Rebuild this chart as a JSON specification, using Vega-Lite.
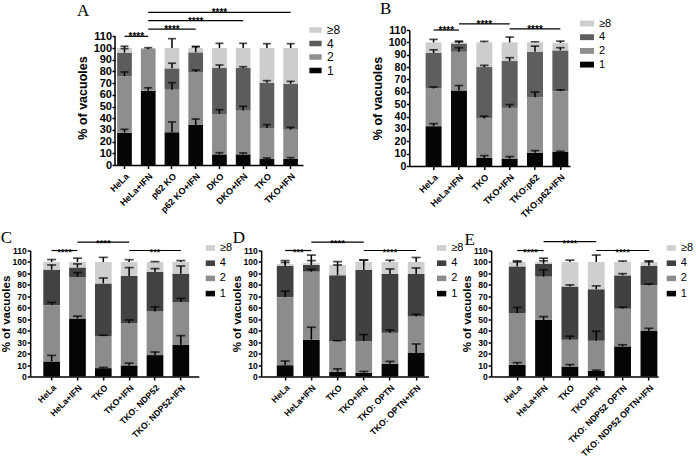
{
  "$schema": "https://vega.github.io/schema/vega-lite/v6.json",
  "padding": {"left": 0, "top": 0, "right": 0, "bottom": 0},
  "config": {
    "view": {"stroke": null},
    "font": "Liberation Sans",
    "axis": {"domainColor": "black", "domainWidth": 1.5, "tickColor": "black", "tickWidth": 1.5, "labelColor": "black", "labelFontWeight": "bold", "titleColor": "black", "titleFontWeight": "bold", "grid": false, "labelFont": "Liberation Sans", "titleFont": "Liberation Sans", "labelOverlap": false, "labelFlush": false, "labelBound": false},
    "axisX": {"labelAngle": -45, "title": null, "tickSize": 3.5, "labelPadding": 3, "labelFontSize": 9},
    "axisY": {"tickSize": 3, "labelPadding": 0.5, "titlePadding": 3.3, "tickCount": 12, "labelBound": false, "labelOverlap": false, "labelFlush": false},
    "legend": {"title": null, "orient": "none", "symbolStrokeWidth": 0, "labelColor": "black", "labelFont": "Liberation Sans", "labelFontSize": 12, "labelOffset": 5},
    "title": {"anchor": "start", "frame": "group", "font": "Liberation Serif", "fontSize": 17, "fontWeight": "normal", "color": "black", "baseline": "alphabetic"}
  },
  "datasets": {
    "bars": [
      {"panel":"A","g":"HeLa","cat":"1","lo":0,"hi":27.6,"err":30.5},
      {"panel":"A","g":"HeLa","cat":"2","lo":27.6,"hi":76,"err":79.5},
      {"panel":"A","g":"HeLa","cat":"4","lo":76,"hi":96,"err":99.5},
      {"panel":"A","g":"HeLa","cat":"≥8","lo":96,"hi":100,"err":101.5},
      {"panel":"A","g":"HeLa+IFN","cat":"1","lo":0,"hi":63.5,"err":66},
      {"panel":"A","g":"HeLa+IFN","cat":"2","lo":63.5,"hi":99,"err":100.3},
      {"panel":"A","g":"HeLa+IFN","cat":"4","lo":99,"hi":99.6,"err":null},
      {"panel":"A","g":"HeLa+IFN","cat":"≥8","lo":99.6,"hi":100,"err":null},
      {"panel":"A","g":"p62 KO","cat":"1","lo":0,"hi":28,"err":36.8},
      {"panel":"A","g":"p62 KO","cat":"2","lo":28,"hi":64.4,"err":70.4},
      {"panel":"A","g":"p62 KO","cat":"4","lo":64.4,"hi":82.6,"err":87},
      {"panel":"A","g":"p62 KO","cat":"≥8","lo":82.6,"hi":100,"err":108},
      {"panel":"A","g":"p62 KO+IFN","cat":"1","lo":0,"hi":34.2,"err":39.3},
      {"panel":"A","g":"p62 KO+IFN","cat":"2","lo":34.2,"hi":79.5,"err":81.2},
      {"panel":"A","g":"p62 KO+IFN","cat":"4","lo":79.5,"hi":96.3,"err":101.4},
      {"panel":"A","g":"p62 KO+IFN","cat":"≥8","lo":96.3,"hi":100,"err":101},
      {"panel":"A","g":"DKO","cat":"1","lo":0,"hi":9.1,"err":10.5},
      {"panel":"A","g":"DKO","cat":"2","lo":9.1,"hi":43.6,"err":47.3},
      {"panel":"A","g":"DKO","cat":"4","lo":43.6,"hi":82.9,"err":85.5},
      {"panel":"A","g":"DKO","cat":"≥8","lo":82.9,"hi":100,"err":104},
      {"panel":"A","g":"DKO+IFN","cat":"1","lo":0,"hi":9.1,"err":10.3},
      {"panel":"A","g":"DKO+IFN","cat":"2","lo":9.1,"hi":46.5,"err":50.2},
      {"panel":"A","g":"DKO+IFN","cat":"4","lo":46.5,"hi":83,"err":84},
      {"panel":"A","g":"DKO+IFN","cat":"≥8","lo":83,"hi":100,"err":104},
      {"panel":"A","g":"TKO","cat":"1","lo":0,"hi":5.1,"err":6},
      {"panel":"A","g":"TKO","cat":"2","lo":5.1,"hi":31.6,"err":34.5},
      {"panel":"A","g":"TKO","cat":"4","lo":31.6,"hi":70.4,"err":72.1},
      {"panel":"A","g":"TKO","cat":"≥8","lo":70.4,"hi":100,"err":103.7},
      {"panel":"A","g":"TKO+IFN","cat":"1","lo":0,"hi":5.4,"err":6.3},
      {"panel":"A","g":"TKO+IFN","cat":"2","lo":5.4,"hi":30.2,"err":32.2},
      {"panel":"A","g":"TKO+IFN","cat":"4","lo":30.2,"hi":69.5,"err":71.5},
      {"panel":"A","g":"TKO+IFN","cat":"≥8","lo":69.5,"hi":100,"err":103.7},

      {"panel":"B","g":"HeLa","cat":"1","lo":0,"hi":32.2,"err":34.3},
      {"panel":"B","g":"HeLa","cat":"2","lo":32.2,"hi":62.7,"err":64},
      {"panel":"B","g":"HeLa","cat":"4","lo":62.7,"hi":91.4,"err":94},
      {"panel":"B","g":"HeLa","cat":"≥8","lo":91.4,"hi":100,"err":102.4},
      {"panel":"B","g":"HeLa+IFN","cat":"1","lo":0,"hi":61.1,"err":65.1},
      {"panel":"B","g":"HeLa+IFN","cat":"2","lo":61.1,"hi":92.4,"err":95.7},
      {"panel":"B","g":"HeLa+IFN","cat":"4","lo":92.4,"hi":99,"err":100.5},
      {"panel":"B","g":"HeLa+IFN","cat":"≥8","lo":99,"hi":100,"err":101},
      {"panel":"B","g":"TKO","cat":"1","lo":0,"hi":6.5,"err":8.4},
      {"panel":"B","g":"TKO","cat":"2","lo":6.5,"hi":38.4,"err":40.3},
      {"panel":"B","g":"TKO","cat":"4","lo":38.4,"hi":80,"err":81.4},
      {"panel":"B","g":"TKO","cat":"≥8","lo":80,"hi":100,"err":100.8},
      {"panel":"B","g":"TKO+IFN","cat":"1","lo":0,"hi":6,"err":7.6},
      {"panel":"B","g":"TKO+IFN","cat":"2","lo":6,"hi":47,"err":49.7},
      {"panel":"B","g":"TKO+IFN","cat":"4","lo":47,"hi":84.9,"err":87.6},
      {"panel":"B","g":"TKO+IFN","cat":"≥8","lo":84.9,"hi":100,"err":104.3},
      {"panel":"B","g":"TKO:p62","cat":"1","lo":0,"hi":10.8,"err":12.4},
      {"panel":"B","g":"TKO:p62","cat":"2","lo":10.8,"hi":55.7,"err":59.7},
      {"panel":"B","g":"TKO:p62","cat":"4","lo":55.7,"hi":92.4,"err":97},
      {"panel":"B","g":"TKO:p62","cat":"≥8","lo":92.4,"hi":100,"err":100.5},
      {"panel":"B","g":"TKO:p62+IFN","cat":"1","lo":0,"hi":11.4,"err":11.9},
      {"panel":"B","g":"TKO:p62+IFN","cat":"2","lo":11.4,"hi":60.5,"err":61.6},
      {"panel":"B","g":"TKO:p62+IFN","cat":"4","lo":60.5,"hi":93.5,"err":95.7},
      {"panel":"B","g":"TKO:p62+IFN","cat":"≥8","lo":93.5,"hi":99.5,"err":101},

      {"panel":"C","g":"HeLa","cat":"1","lo":0,"hi":13.2,"err":18.4},
      {"panel":"C","g":"HeLa","cat":"2","lo":13.2,"hi":62.3,"err":64.7},
      {"panel":"C","g":"HeLa","cat":"4","lo":62.3,"hi":93.3,"err":97.4},
      {"panel":"C","g":"HeLa","cat":"≥8","lo":93.3,"hi":100,"err":102.1},
      {"panel":"C","g":"HeLa+IFN","cat":"1","lo":0,"hi":50.6,"err":52.7},
      {"panel":"C","g":"HeLa+IFN","cat":"2","lo":50.6,"hi":86.9,"err":90.7},
      {"panel":"C","g":"HeLa+IFN","cat":"4","lo":86.9,"hi":95.1,"err":98.3},
      {"panel":"C","g":"HeLa+IFN","cat":"≥8","lo":95.1,"hi":100,"err":103.3},
      {"panel":"C","g":"TKO","cat":"1","lo":0,"hi":7.3,"err":7.9},
      {"panel":"C","g":"TKO","cat":"2","lo":7.3,"hi":35.4,"err":36},
      {"panel":"C","g":"TKO","cat":"4","lo":35.4,"hi":81.3,"err":86},
      {"panel":"C","g":"TKO","cat":"≥8","lo":81.3,"hi":100,"err":104},
      {"panel":"C","g":"TKO+IFN","cat":"1","lo":0,"hi":9.7,"err":11.7},
      {"panel":"C","g":"TKO+IFN","cat":"2","lo":9.7,"hi":46.5,"err":49.4},
      {"panel":"C","g":"TKO+IFN","cat":"4","lo":46.5,"hi":87.8,"err":95.1},
      {"panel":"C","g":"TKO+IFN","cat":"≥8","lo":87.8,"hi":100,"err":102},
      {"panel":"C","g":"TKO: NDP52","cat":"1","lo":0,"hi":18.7,"err":21.4},
      {"panel":"C","g":"TKO: NDP52","cat":"2","lo":18.7,"hi":56.8,"err":60.9},
      {"panel":"C","g":"TKO: NDP52","cat":"4","lo":56.8,"hi":91.3,"err":94.2},
      {"panel":"C","g":"TKO: NDP52","cat":"≥8","lo":91.3,"hi":100,"err":100.3},
      {"panel":"C","g":"TKO: NDP52+IFN","cat":"1","lo":0,"hi":27.5,"err":35.7},
      {"panel":"C","g":"TKO: NDP52+IFN","cat":"2","lo":27.5,"hi":65,"err":68.2},
      {"panel":"C","g":"TKO: NDP52+IFN","cat":"4","lo":65,"hi":89.8,"err":96.5},
      {"panel":"C","g":"TKO: NDP52+IFN","cat":"≥8","lo":89.8,"hi":100,"err":101.2},

      {"panel":"D","g":"HeLa","cat":"1","lo":0,"hi":9.9,"err":13.5},
      {"panel":"D","g":"HeLa","cat":"2","lo":9.9,"hi":69.3,"err":74.6},
      {"panel":"D","g":"HeLa","cat":"4","lo":69.3,"hi":96.5,"err":99.5},
      {"panel":"D","g":"HeLa","cat":"≥8","lo":96.5,"hi":98.3,"err":101.2},
      {"panel":"D","g":"HeLa+IFN","cat":"1","lo":0,"hi":32.2,"err":43},
      {"panel":"D","g":"HeLa+IFN","cat":"2","lo":32.2,"hi":91.6,"err":93.5},
      {"panel":"D","g":"HeLa+IFN","cat":"4","lo":91.6,"hi":97.4,"err":101.2},
      {"panel":"D","g":"HeLa+IFN","cat":"≥8","lo":97.4,"hi":99.2,"err":106},
      {"panel":"D","g":"TKO","cat":"1","lo":0,"hi":4.1,"err":6.7},
      {"panel":"D","g":"TKO","cat":"2","lo":4.1,"hi":30.7,"err":31.3},
      {"panel":"D","g":"TKO","cat":"4","lo":30.7,"hi":88.4,"err":97.4},
      {"panel":"D","g":"TKO","cat":"≥8","lo":88.4,"hi":97.5,"err":100.3},
      {"panel":"D","g":"TKO+IFN","cat":"1","lo":0,"hi":3.2,"err":4.4},
      {"panel":"D","g":"TKO+IFN","cat":"2","lo":3.2,"hi":31,"err":36.6},
      {"panel":"D","g":"TKO+IFN","cat":"4","lo":31,"hi":93,"err":101.5},
      {"panel":"D","g":"TKO+IFN","cat":"≥8","lo":93,"hi":100,"err":101.8},
      {"panel":"D","g":"TKO: OPTN","cat":"1","lo":0,"hi":11.1,"err":13.2},
      {"panel":"D","g":"TKO: OPTN","cat":"2","lo":11.1,"hi":38.3,"err":40.7},
      {"panel":"D","g":"TKO: OPTN","cat":"4","lo":38.3,"hi":89.5,"err":93.9},
      {"panel":"D","g":"TKO: OPTN","cat":"≥8","lo":89.5,"hi":100,"err":101.5},
      {"panel":"D","g":"TKO: OPTN+IFN","cat":"1","lo":0,"hi":20.5,"err":28.4},
      {"panel":"D","g":"TKO: OPTN+IFN","cat":"2","lo":20.5,"hi":52.4,"err":54.4},
      {"panel":"D","g":"TKO: OPTN+IFN","cat":"4","lo":52.4,"hi":89.5,"err":94.8},
      {"panel":"D","g":"TKO: OPTN+IFN","cat":"≥8","lo":89.5,"hi":100,"err":103.9},

      {"panel":"E","g":"HeLa","cat":"1","lo":0,"hi":10.4,"err":12.1},
      {"panel":"E","g":"HeLa","cat":"2","lo":10.4,"hi":55.4,"err":60.3},
      {"panel":"E","g":"HeLa","cat":"4","lo":55.4,"hi":96.1,"err":100},
      {"panel":"E","g":"HeLa","cat":"≥8","lo":96.1,"hi":100,"err":101},
      {"panel":"E","g":"HeLa+IFN","cat":"1","lo":0,"hi":49.4,"err":52.3},
      {"panel":"E","g":"HeLa+IFN","cat":"2","lo":49.4,"hi":87.2,"err":93.2},
      {"panel":"E","g":"HeLa+IFN","cat":"4","lo":87.2,"hi":98.4,"err":101},
      {"panel":"E","g":"HeLa+IFN","cat":"≥8","lo":98.4,"hi":100,"err":103.3},
      {"panel":"E","g":"TKO","cat":"1","lo":0,"hi":8.7,"err":10.4},
      {"panel":"E","g":"TKO","cat":"2","lo":8.7,"hi":32,"err":35.2},
      {"panel":"E","g":"TKO","cat":"4","lo":32,"hi":78.5,"err":80},
      {"panel":"E","g":"TKO","cat":"≥8","lo":78.5,"hi":100,"err":101.6},
      {"panel":"E","g":"TKO+IFN","cat":"1","lo":0,"hi":4.9,"err":5.5},
      {"panel":"E","g":"TKO+IFN","cat":"2","lo":4.9,"hi":31.2,"err":39.5},
      {"panel":"E","g":"TKO+IFN","cat":"4","lo":31.2,"hi":76.2,"err":79.1},
      {"panel":"E","g":"TKO+IFN","cat":"≥8","lo":76.2,"hi":100,"err":106},
      {"panel":"E","g":"TKO: NDP52 OPTN","cat":"1","lo":0,"hi":26.3,"err":27.7},
      {"panel":"E","g":"TKO: NDP52 OPTN","cat":"2","lo":26.3,"hi":59.2,"err":60.6},
      {"panel":"E","g":"TKO: NDP52 OPTN","cat":"4","lo":59.2,"hi":88.3,"err":89.8},
      {"panel":"E","g":"TKO: NDP52 OPTN","cat":"≥8","lo":88.3,"hi":100,"err":100.8},
      {"panel":"E","g":"TKO: NDP52 OPTN+IFN","cat":"1","lo":0,"hi":39.8,"err":42.1},
      {"panel":"E","g":"TKO: NDP52 OPTN+IFN","cat":"2","lo":39.8,"hi":79.7,"err":80.8},
      {"panel":"E","g":"TKO: NDP52 OPTN+IFN","cat":"4","lo":79.7,"hi":96.7,"err":100.2},
      {"panel":"E","g":"TKO: NDP52 OPTN+IFN","cat":"≥8","lo":96.7,"hi":100,"err":101}
    ],
    "sig": [
      {"panel":"A","i1":0,"i2":1,"mid":0.5,"y":110,"label":"****"},
      {"panel":"A","i1":1,"i2":3,"mid":2,"y":116.2,"label":"****"},
      {"panel":"A","i1":1,"i2":5,"mid":3,"y":123.4,"label":"****"},
      {"panel":"A","i1":1,"i2":7,"mid":4,"y":130.5,"label":"****"},
      {"panel":"B","i1":0,"i2":1,"mid":0.5,"y":110,"label":"****"},
      {"panel":"B","i1":1,"i2":3,"mid":2,"y":114.9,"label":"****"},
      {"panel":"B","i1":3,"i2":5,"mid":4,"y":111,"label":"****"},
      {"panel":"C","i1":0,"i2":1,"mid":0.5,"y":110,"label":"****"},
      {"panel":"C","i1":1,"i2":3,"mid":2,"y":117.4,"label":"****"},
      {"panel":"C","i1":3,"i2":5,"mid":4,"y":110,"label":"***"},
      {"panel":"D","i1":0,"i2":1,"mid":0.5,"y":110,"label":"***"},
      {"panel":"D","i1":1,"i2":3,"mid":2,"y":117.4,"label":"****"},
      {"panel":"D","i1":3,"i2":5,"mid":4,"y":110,"label":"****"},
      {"panel":"E","i1":0,"i2":1,"mid":0.5,"y":110,"label":"****"},
      {"panel":"E","i1":1,"i2":3,"mid":2,"y":117.8,"label":"****"},
      {"panel":"E","i1":3,"i2":5,"mid":4,"y":110,"label":"****"}
    ]
  },
  "resolve": {"scale": {"color": "independent"}, "legend": {"color": "independent"}},
  "center": true,
  "spacing": 8.5,
  "vconcat": [
    {
      "resolve": {"scale": {"color": "independent"}, "legend": {"color": "independent"}},
      "bounds": "flush",
      "spacing": 106.3,
      "hconcat": [
        {
          "width": 188, "height": 135,
          "title": {"text": "A", "dx": -38, "offset": -12},
          "resolve": {"scale": {"x": "independent"}},
          "layer": [
            {
              "data": {"name": "bars"},
              "transform": [{"filter": "datum.panel === 'A'"}],
              "layer": [
                {"mark": {"type": "bar"},
                 "encoding": {
                   "x": {"field": "g", "type": "nominal", "sort": null, "scale": {"paddingInner": 0.38, "paddingOuter": 0.15, "align": 0.3}},
                   "y": {"field": "lo", "type": "quantitative", "scale": {"domain": [0, 115.4], "nice": false}, "axis": {"tickCount": 12, "labelBound": false, "labelOverlap": false, "title": "% of vacuoles", "labelFontSize": 11, "titleFontSize": 12.5, "domain": false}},
                   "y2": {"field": "hi"},
                   "color": {"field": "cat", "type": "nominal", "scale": {"domain": ["≥8","4","2","1"], "range": ["#cdcdcd","#5c5c5c","#8e8e8e","#050505"]}, "legend": {"legendX": 194, "legendY": -6.5, "symbolType": "M-1,-0.45H1V0.45H-1Z", "symbolSize": 150, "rowPadding": 0.5}}
                 }},
                {"transform": [{"filter": "datum.err != null"}],
                 "mark": {"type": "rule", "color": "black", "strokeWidth": 1.5},
                 "encoding": {
                   "x": {"field": "g", "type": "nominal", "sort": null},
                   "y": {"field": "hi", "type": "quantitative", "scale": {"domain": [0, 115.4], "nice": false}, "axis": {"tickCount": 12, "labelBound": false, "labelOverlap": false, "title": "% of vacuoles", "labelFontSize": 11, "titleFontSize": 12.5, "domain": false}},
                   "y2": {"field": "err"}
                 }},
                {"transform": [{"filter": "datum.err != null"}],
                 "mark": {"type": "tick", "color": "black", "thickness": 1.7, "size": 8},
                 "encoding": {
                   "x": {"field": "g", "type": "nominal", "sort": null},
                   "y": {"field": "err", "type": "quantitative", "scale": {"domain": [0, 115.4], "nice": false}, "axis": {"tickCount": 12, "labelBound": false, "labelOverlap": false, "title": "% of vacuoles", "labelFontSize": 11, "titleFontSize": 12.5, "domain": false}}
                 }}
              ]
            },
            {
              "data": {"name": "sig"},
              "transform": [{"filter": "datum.panel === 'A'"}],
              "layer": [
                {"mark": {"type": "rule", "color": "black", "strokeWidth": 1.2},
                 "encoding": {
                   "x": {"field": "i1", "type": "quantitative", "scale": {"domain": [-0.4, 7.52], "nice": false, "zero": false}, "axis": null},
                   "x2": {"field": "i2"},
                   "y": {"field": "y", "type": "quantitative", "scale": {"domain": [0, 115.4], "nice": false}, "axis": {"tickCount": 12, "labelBound": false, "labelOverlap": false, "title": "% of vacuoles", "labelFontSize": 11, "titleFontSize": 12.5, "domain": false}}
                 }},
                {"mark": {"type": "text", "fontSize": 10, "fontWeight": "bold", "baseline": "alphabetic", "dy": 4, "color": "black"},
                 "encoding": {
                   "x": {"field": "mid", "type": "quantitative", "scale": {"domain": [-0.4, 7.52], "nice": false, "zero": false}, "axis": null},
                   "y": {"field": "y", "type": "quantitative", "scale": {"domain": [0, 115.4], "nice": false}, "axis": {"tickCount": 12, "labelBound": false, "labelOverlap": false, "title": "% of vacuoles", "labelFontSize": 11, "titleFontSize": 12.5, "domain": false}},
                   "text": {"field": "label"}
                 }}
              ]
            },
            {
              "data": {"values": [{"axisline": "y"}]},
              "mark": {"type": "rule", "color": "black", "strokeWidth": 1.5},
              "encoding": {
                "x": {"datum": -0.4, "type": "quantitative", "scale": {"domain": [-0.4, 7.52], "nice": false, "zero": false}, "axis": null},
                "y": {"datum": 0, "type": "quantitative", "scale": {"domain": [0, 115.4], "nice": false}, "axis": {"tickCount": 12, "labelBound": false, "labelOverlap": false, "title": "% of vacuoles", "labelFontSize": 11, "titleFontSize": 12.5, "domain": false}},
                "y2": {"datum": 110}
              }
            }
          ]
        },
        {
          "width": 160.7, "height": 136,
          "title": {"text": "B", "dx": -29.3, "offset": -1.6},
          "resolve": {"scale": {"x": "independent"}},
          "layer": [
            {
              "data": {"name": "bars"},
              "transform": [{"filter": "datum.panel === 'B'"}],
              "layer": [
                {"mark": {"type": "bar"},
                 "encoding": {
                   "x": {"field": "g", "type": "nominal", "sort": null, "scale": {"paddingInner": 0.37, "paddingOuter": 0.355, "align": 0.907}},
                   "y": {"field": "lo", "type": "quantitative", "scale": {"domain": [0, 110.01], "nice": false}, "axis": {"tickCount": 12, "labelBound": false, "labelOverlap": false, "title": "% of vacuoles", "labelFontSize": 10.5, "titleFontSize": 12.5}},
                   "y2": {"field": "hi"},
                   "color": {"field": "cat", "type": "nominal", "scale": {"domain": ["≥8","4","2","1"], "range": ["#cdcdcd","#5e5e5e","#8e8e8e","#050505"]}, "legend": {"legendX": 170.7, "legendY": -13.5, "symbolType": "M-1,-0.42H1V0.42H-1Z", "symbolSize": 196, "rowPadding": 1.7, "labelFontSize": 11}}
                 }},
                {"transform": [{"filter": "datum.err != null"}],
                 "mark": {"type": "rule", "color": "black", "strokeWidth": 1.5},
                 "encoding": {
                   "x": {"field": "g", "type": "nominal", "sort": null},
                   "y": {"field": "hi", "type": "quantitative", "scale": {"domain": [0, 110.01], "nice": false}, "axis": {"tickCount": 12, "labelBound": false, "labelOverlap": false, "title": "% of vacuoles", "labelFontSize": 10.5, "titleFontSize": 12.5}},
                   "y2": {"field": "err"}
                 }},
                {"transform": [{"filter": "datum.err != null"}],
                 "mark": {"type": "tick", "color": "black", "thickness": 1.7, "size": 8.5},
                 "encoding": {
                   "x": {"field": "g", "type": "nominal", "sort": null},
                   "y": {"field": "err", "type": "quantitative", "scale": {"domain": [0, 110.01], "nice": false}, "axis": {"tickCount": 12, "labelBound": false, "labelOverlap": false, "title": "% of vacuoles", "labelFontSize": 10.5, "titleFontSize": 12.5}}
                 }}
              ]
            },
            {
              "data": {"name": "sig"},
              "transform": [{"filter": "datum.panel === 'B'"}],
              "layer": [
                {"mark": {"type": "rule", "color": "black", "strokeWidth": 1.2},
                 "encoding": {
                   "x": {"field": "i1", "type": "quantitative", "scale": {"domain": [-0.959, 5.381], "nice": false, "zero": false}, "axis": null},
                   "x2": {"field": "i2"},
                   "y": {"field": "y", "type": "quantitative", "scale": {"domain": [0, 110.01], "nice": false}, "axis": {"tickCount": 12, "labelBound": false, "labelOverlap": false, "title": "% of vacuoles", "labelFontSize": 10.5, "titleFontSize": 12.5}}
                 }},
                {"mark": {"type": "text", "fontSize": 10, "fontWeight": "bold", "baseline": "alphabetic", "dy": 4, "color": "black"},
                 "encoding": {
                   "x": {"field": "mid", "type": "quantitative", "scale": {"domain": [-0.959, 5.381], "nice": false, "zero": false}, "axis": null},
                   "y": {"field": "y", "type": "quantitative", "scale": {"domain": [0, 110.01], "nice": false}, "axis": {"tickCount": 12, "labelBound": false, "labelOverlap": false, "title": "% of vacuoles", "labelFontSize": 10.5, "titleFontSize": 12.5}},
                   "text": {"field": "label"}
                 }}
              ]
            }
          ]
        }
      ]
    },
    {
      "resolve": {"scale": {"color": "independent"}, "legend": {"color": "independent"}},
      "bounds": "flush",
      "spacing": 62,
      "hconcat": [
        {
          "width": 168.7, "height": 126,
          "title": {"text": "C", "dx": -29.3, "offset": -9.4},
          "resolve": {"scale": {"x": "independent"}},
          "layer": [
            {
              "data": {"name": "bars"},
              "transform": [{"filter": "datum.panel === 'C'"}],
              "layer": [
                {"mark": {"type": "bar"},
                 "encoding": {
                   "x": {"field": "g", "type": "nominal", "sort": null, "scale": {"paddingInner": 0.354, "paddingOuter": 0.4415, "align": 0.576}, "axis": {"labelFontSize": 8.7}},
                   "y": {"field": "lo", "type": "quantitative", "scale": {"domain": [0, 110.01], "nice": false}, "axis": {"tickCount": 12, "labelBound": false, "labelOverlap": false, "title": "% of vacuoles", "labelFontSize": 8.5, "titleFontSize": 11.5, "labelPadding": 1, "titlePadding": 0.5}},
                   "y2": {"field": "hi"},
                   "color": {"field": "cat", "type": "nominal", "scale": {"domain": ["≥8","4","2","1"], "range": ["#cfcfcf","#424242","#8c8c8c","#050505"]}, "legend": {"legendX": 174.7, "legendY": -8, "symbolType": "M-1,-0.6H1V0.6H-1Z", "symbolSize": 86, "rowPadding": 3.2, "labelFontSize": 11, "labelOffset": 4}}
                 }},
                {"transform": [{"filter": "datum.err != null"}],
                 "mark": {"type": "rule", "color": "black", "strokeWidth": 1.5},
                 "encoding": {
                   "x": {"field": "g", "type": "nominal", "sort": null},
                   "y": {"field": "hi", "type": "quantitative", "scale": {"domain": [0, 110.01], "nice": false}, "axis": {"tickCount": 12, "labelBound": false, "labelOverlap": false, "title": "% of vacuoles", "labelFontSize": 8.5, "titleFontSize": 11.5, "labelPadding": 1, "titlePadding": 0.5}},
                   "y2": {"field": "err"}
                 }},
                {"transform": [{"filter": "datum.err != null"}],
                 "mark": {"type": "tick", "color": "black", "thickness": 1.7, "size": 9},
                 "encoding": {
                   "x": {"field": "g", "type": "nominal", "sort": null},
                   "y": {"field": "err", "type": "quantitative", "scale": {"domain": [0, 110.01], "nice": false}, "axis": {"tickCount": 12, "labelBound": false, "labelOverlap": false, "title": "% of vacuoles", "labelFontSize": 8.5, "titleFontSize": 11.5, "labelPadding": 1, "titlePadding": 0.5}}
                 }}
              ]
            },
            {
              "data": {"name": "sig"},
              "transform": [{"filter": "datum.panel === 'C'"}],
              "layer": [
                {"mark": {"type": "rule", "color": "black", "strokeWidth": 1.2},
                 "encoding": {
                   "x": {"field": "i1", "type": "quantitative", "scale": {"domain": [-0.832, 5.697], "nice": false, "zero": false}, "axis": null},
                   "x2": {"field": "i2"},
                   "y": {"field": "y", "type": "quantitative", "scale": {"domain": [0, 110.01], "nice": false}, "axis": {"tickCount": 12, "labelBound": false, "labelOverlap": false, "title": "% of vacuoles", "labelFontSize": 8.5, "titleFontSize": 11.5, "labelPadding": 1, "titlePadding": 0.5}}
                 }},
                {"mark": {"type": "text", "fontSize": 9.5, "fontWeight": "bold", "baseline": "alphabetic", "dy": 4, "color": "black"},
                 "encoding": {
                   "x": {"field": "mid", "type": "quantitative", "scale": {"domain": [-0.832, 5.697], "nice": false, "zero": false}, "axis": null},
                   "y": {"field": "y", "type": "quantitative", "scale": {"domain": [0, 110.01], "nice": false}, "axis": {"tickCount": 12, "labelBound": false, "labelOverlap": false, "title": "% of vacuoles", "labelFontSize": 8.5, "titleFontSize": 11.5, "labelPadding": 1, "titlePadding": 0.5}},
                   "text": {"field": "label"}
                 }}
              ]
            }
          ]
        },
        {
          "width": 167.3, "height": 126,
          "title": {"text": "D", "dx": -28.3, "offset": -9.4},
          "resolve": {"scale": {"x": "independent"}},
          "layer": [
            {
              "data": {"name": "bars"},
              "transform": [{"filter": "datum.panel === 'D'"}],
              "layer": [
                {"mark": {"type": "bar"},
                 "encoding": {
                   "x": {"field": "g", "type": "nominal", "sort": null, "scale": {"paddingInner": 0.363, "paddingOuter": 0.374, "align": 0.799}, "axis": {"labelFontSize": 8.7}},
                   "y": {"field": "lo", "type": "quantitative", "scale": {"domain": [0, 110.01], "nice": false}, "axis": {"tickCount": 12, "labelBound": false, "labelOverlap": false, "title": "% of vacuoles", "labelFontSize": 8.5, "titleFontSize": 11.5, "labelPadding": 1, "titlePadding": 0.5}},
                   "y2": {"field": "hi"},
                   "color": {"field": "cat", "type": "nominal", "scale": {"domain": ["≥8","4","2","1"], "range": ["#cfcfcf","#404040","#8c8c8c","#050505"]}, "legend": {"legendX": 175, "legendY": -8, "symbolType": "M-1,-0.6H1V0.6H-1Z", "symbolSize": 86, "rowPadding": 3.2, "labelFontSize": 11, "labelOffset": 4}}
                 }},
                {"transform": [{"filter": "datum.err != null"}],
                 "mark": {"type": "rule", "color": "black", "strokeWidth": 1.5},
                 "encoding": {
                   "x": {"field": "g", "type": "nominal", "sort": null},
                   "y": {"field": "hi", "type": "quantitative", "scale": {"domain": [0, 110.01], "nice": false}, "axis": {"tickCount": 12, "labelBound": false, "labelOverlap": false, "title": "% of vacuoles", "labelFontSize": 8.5, "titleFontSize": 11.5, "labelPadding": 1, "titlePadding": 0.5}},
                   "y2": {"field": "err"}
                 }},
                {"transform": [{"filter": "datum.err != null"}],
                 "mark": {"type": "tick", "color": "black", "thickness": 1.7, "size": 9},
                 "encoding": {
                   "x": {"field": "g", "type": "nominal", "sort": null},
                   "y": {"field": "err", "type": "quantitative", "scale": {"domain": [0, 110.01], "nice": false}, "axis": {"tickCount": 12, "labelBound": false, "labelOverlap": false, "title": "% of vacuoles", "labelFontSize": 8.5, "titleFontSize": 11.5, "labelPadding": 1, "titlePadding": 0.5}}
                 }}
              ]
            },
            {
              "data": {"name": "sig"},
              "transform": [{"filter": "datum.panel === 'D'"}],
              "layer": [
                {"mark": {"type": "rule", "color": "black", "strokeWidth": 1.2},
                 "encoding": {
                   "x": {"field": "i1", "type": "quantitative", "scale": {"domain": [-0.916, 5.469], "nice": false, "zero": false}, "axis": null},
                   "x2": {"field": "i2"},
                   "y": {"field": "y", "type": "quantitative", "scale": {"domain": [0, 110.01], "nice": false}, "axis": {"tickCount": 12, "labelBound": false, "labelOverlap": false, "title": "% of vacuoles", "labelFontSize": 8.5, "titleFontSize": 11.5, "labelPadding": 1, "titlePadding": 0.5}}
                 }},
                {"mark": {"type": "text", "fontSize": 9.5, "fontWeight": "bold", "baseline": "alphabetic", "dy": 4, "color": "black"},
                 "encoding": {
                   "x": {"field": "mid", "type": "quantitative", "scale": {"domain": [-0.916, 5.469], "nice": false, "zero": false}, "axis": null},
                   "y": {"field": "y", "type": "quantitative", "scale": {"domain": [0, 110.01], "nice": false}, "axis": {"tickCount": 12, "labelBound": false, "labelOverlap": false, "title": "% of vacuoles", "labelFontSize": 8.5, "titleFontSize": 11.5, "labelPadding": 1, "titlePadding": 0.5}},
                   "text": {"field": "label"}
                 }}
              ]
            }
          ]
        },
        {
          "width": 167, "height": 126,
          "title": {"text": "E", "dx": -26.6, "offset": -11.7},
          "resolve": {"scale": {"x": "independent"}},
          "layer": [
            {
              "data": {"name": "bars"},
              "transform": [{"filter": "datum.panel === 'E'"}],
              "layer": [
                {"mark": {"type": "bar"},
                 "encoding": {
                   "x": {"field": "g", "type": "nominal", "sort": null, "scale": {"paddingInner": 0.361, "paddingOuter": 0.35, "align": 0.957}, "axis": {"labelFontSize": 8.7}},
                   "y": {"field": "lo", "type": "quantitative", "scale": {"domain": [0, 110.01], "nice": false}, "axis": {"tickCount": 12, "labelBound": false, "labelOverlap": false, "title": "% of vacuoles", "labelFontSize": 8.5, "titleFontSize": 11.5, "labelPadding": 1, "titlePadding": 0.5}},
                   "y2": {"field": "hi"},
                   "color": {"field": "cat", "type": "nominal", "scale": {"domain": ["≥8","4","2","1"], "range": ["#cfcfcf","#404040","#8c8c8c","#050505"]}, "legend": {"legendX": 171.7, "legendY": -11, "padding": 3, "symbolType": "M-1,-0.6H1V0.6H-1Z", "symbolSize": 86, "rowPadding": 3.2, "labelFontSize": 11, "labelOffset": 4}}
                 }},
                {"transform": [{"filter": "datum.err != null"}],
                 "mark": {"type": "rule", "color": "black", "strokeWidth": 1.5},
                 "encoding": {
                   "x": {"field": "g", "type": "nominal", "sort": null},
                   "y": {"field": "hi", "type": "quantitative", "scale": {"domain": [0, 110.01], "nice": false}, "axis": {"tickCount": 12, "labelBound": false, "labelOverlap": false, "title": "% of vacuoles", "labelFontSize": 8.5, "titleFontSize": 11.5, "labelPadding": 1, "titlePadding": 0.5}},
                   "y2": {"field": "err"}
                 }},
                {"transform": [{"filter": "datum.err != null"}],
                 "mark": {"type": "tick", "color": "black", "thickness": 1.7, "size": 9},
                 "encoding": {
                   "x": {"field": "g", "type": "nominal", "sort": null},
                   "y": {"field": "err", "type": "quantitative", "scale": {"domain": [0, 110.01], "nice": false}, "axis": {"tickCount": 12, "labelBound": false, "labelOverlap": false, "title": "% of vacuoles", "labelFontSize": 8.5, "titleFontSize": 11.5, "labelPadding": 1, "titlePadding": 0.5}}
                 }}
              ]
            },
            {
              "data": {"name": "sig"},
              "transform": [{"filter": "datum.panel === 'E'"}],
              "layer": [
                {"mark": {"type": "rule", "color": "black", "strokeWidth": 1.2},
                 "encoding": {
                   "x": {"field": "i1", "type": "quantitative", "scale": {"domain": [-0.99, 5.349], "nice": false, "zero": false}, "axis": null},
                   "x2": {"field": "i2"},
                   "y": {"field": "y", "type": "quantitative", "scale": {"domain": [0, 110.01], "nice": false}, "axis": {"tickCount": 12, "labelBound": false, "labelOverlap": false, "title": "% of vacuoles", "labelFontSize": 8.5, "titleFontSize": 11.5, "labelPadding": 1, "titlePadding": 0.5}}
                 }},
                {"mark": {"type": "text", "fontSize": 9.5, "fontWeight": "bold", "baseline": "alphabetic", "dy": 4, "color": "black"},
                 "encoding": {
                   "x": {"field": "mid", "type": "quantitative", "scale": {"domain": [-0.99, 5.349], "nice": false, "zero": false}, "axis": null},
                   "y": {"field": "y", "type": "quantitative", "scale": {"domain": [0, 110.01], "nice": false}, "axis": {"tickCount": 12, "labelBound": false, "labelOverlap": false, "title": "% of vacuoles", "labelFontSize": 8.5, "titleFontSize": 11.5, "labelPadding": 1, "titlePadding": 0.5}},
                   "text": {"field": "label"}
                 }}
              ]
            }
          ]
        }
      ]
    }
  ]
}
